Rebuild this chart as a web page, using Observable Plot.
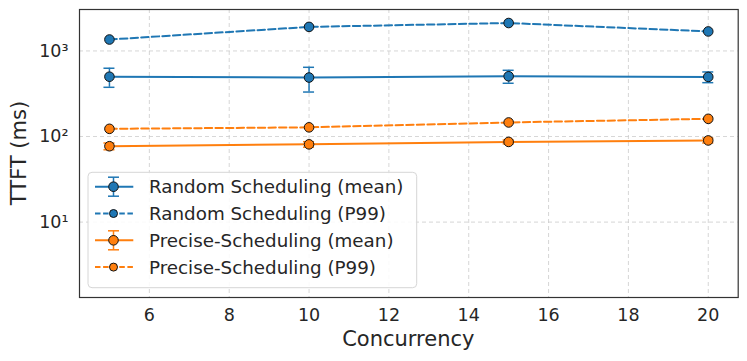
<!DOCTYPE html>
<html><head><meta charset="utf-8">
<script src="https://cdn.jsdelivr.net/npm/d3@7"></script>
<script src="https://cdn.jsdelivr.net/npm/@observablehq/plot@0.6"></script>
<style>body{margin:0;background:#fff;}svg{font-family:"DejaVu Sans",sans-serif;}</style>
</head><body><div id="chart"></div>
<script>
const concurrency = [5, 10, 15, 20];
const randomMean = [500, 489, 506, 497];
const randomErrLow = [376, 331, 419, 426];
const randomErrHigh = [628, 644, 594, 568];
const randomP99 = [1360, 1910, 2120, 1690];
const preciseMean = [77, 81, 86.5, 90];
const preciseErrLow = [70, 75, 82, 84];
const preciseErrHigh = [84, 87, 91, 96];
const preciseP99 = [123, 128, 146, 161];
const yTicks = [10, 100, 1000];
const yTickLabels = ["10¹", "10²", "10³"];
const xTicks = [6, 8, 10, 12, 14, 16, 18, 20];
const seriesNames = ["Random Scheduling (mean)", "Random Scheduling (P99)", "Precise-Scheduling (mean)", "Precise-Scheduling (P99)"];

const BLUE = "#1f77b4", ORANGE = "#ff7f0e", TXT = "#262626";
const rows = (ys, lo, hi) => concurrency.map((x, i) => ({x, y: ys[i], lo: lo ? lo[i] : null, hi: hi ? hi[i] : null}));
const rMean = rows(randomMean, randomErrLow, randomErrHigh);
const rP99 = rows(randomP99);
const pMean = rows(preciseMean, preciseErrLow, preciseErrHigh);
const pP99 = rows(preciseP99);
const dash = "7.4,3.2";

function errMarks(data, color) {
  return [
    Plot.ruleX(data, {x: "x", y1: "lo", y2: "hi", stroke: color, strokeWidth: 1.5}),
    Plot.ruleY(data, {x1: "x", x2: "x", y: "lo", stroke: color, strokeWidth: 1.5, insetLeft: -5.5, insetRight: -5.5}),
    Plot.ruleY(data, {x1: "x", x2: "x", y: "hi", stroke: color, strokeWidth: 1.5, insetLeft: -5.5, insetRight: -5.5})
  ];
}

const W = 747, H = 361;
const chart = Plot.plot({
  width: W, height: H,
  marginLeft: 79, marginTop: 9, marginRight: 9.3, marginBottom: 64,
  style: {fontFamily: "DejaVu Sans, sans-serif", fontSize: "17.5px", color: TXT, background: "#fff"},
  x: {domain: [4.25, 20.75], ticks: xTicks, label: null},
  y: {type: "log", domain: [1.315, 3050], ticks: yTicks, label: null},
  marks: [
    Plot.gridX(xTicks, {stroke: "#cccccc", strokeOpacity: 1, strokeDasharray: "4,3", strokeWidth: 0.8}),
    Plot.gridY(yTicks, {stroke: "#cccccc", strokeOpacity: 1, strokeDasharray: "4,3", strokeWidth: 0.8}),
    Plot.axisX(xTicks, {tickSize: 0, tickPadding: 11, fill: TXT, fontSize: 17.5, label: null}),
    Plot.axisY(yTicks, {tickSize: 0, tickPadding: 11, fill: TXT, fontSize: 17.5, label: null,
      tickFormat: (d) => yTickLabels[yTicks.indexOf(d)]}),
    ...errMarks(rMean, BLUE),
    ...errMarks(pMean, ORANGE),
    Plot.line(rMean, {x: "x", y: "y", stroke: BLUE, strokeWidth: 2}),
    Plot.line(rP99, {x: "x", y: "y", stroke: BLUE, strokeWidth: 2, strokeDasharray: dash}),
    Plot.line(pMean, {x: "x", y: "y", stroke: ORANGE, strokeWidth: 2}),
    Plot.line(pP99, {x: "x", y: "y", stroke: ORANGE, strokeWidth: 2, strokeDasharray: dash}),
    Plot.dot(rMean, {x: "x", y: "y", r: 4.8, fill: BLUE, stroke: "#111", strokeWidth: 1}),
    Plot.dot(rP99, {x: "x", y: "y", r: 4.8, fill: BLUE, stroke: "#111", strokeWidth: 1}),
    Plot.dot(pMean, {x: "x", y: "y", r: 4.8, fill: ORANGE, stroke: "#111", strokeWidth: 1}),
    Plot.dot(pP99, {x: "x", y: "y", r: 4.8, fill: ORANGE, stroke: "#111", strokeWidth: 1}),
    Plot.frame({stroke: "#333", strokeWidth: 1.2})
  ]
});
document.getElementById("chart").append(chart);

const svg = d3.select(chart);
// axis labels
svg.append("text").attr("x", 408.3).attr("y", 346).attr("text-anchor", "middle")
  .attr("font-size", 21).attr("fill", TXT).text("Concurrency");
svg.append("text").attr("transform", "translate(25.6,153) rotate(-90)").attr("text-anchor", "middle")
  .attr("font-size", 21).attr("fill", TXT).text("TTFT (ms)");

// legend
const lg = svg.append("g");
lg.append("rect").attr("x", 88).attr("y", 172.3).attr("width", 328.7).attr("height", 115.4)
  .attr("rx", 4).attr("fill", "#fff").attr("fill-opacity", 0.85).attr("stroke", "#d6d6d6").attr("stroke-width", 1);
const legendItems = [
  {name: seriesNames[0], color: BLUE, dashed: false, err: true},
  {name: seriesNames[1], color: BLUE, dashed: true, err: false},
  {name: seriesNames[2], color: ORANGE, dashed: false, err: true},
  {name: seriesNames[3], color: ORANGE, dashed: true, err: false}
];
legendItems.forEach((it, i) => {
  const cy = 186.7 + i * 26.8;
  const g = lg.append("g");
  g.append("line").attr("x1", 95).attr("x2", 133.3).attr("y1", cy).attr("y2", cy)
    .attr("stroke", it.color).attr("stroke-width", 2).attr("stroke-dasharray", it.dashed ? "5.5,2.6" : null);
  if (it.err) {
    g.append("line").attr("x1", 113.5).attr("x2", 113.5).attr("y1", cy - 9.5).attr("y2", cy + 9.5).attr("stroke", it.color).attr("stroke-width", 1.5);
    g.append("line").attr("x1", 108).attr("x2", 119).attr("y1", cy - 9.5).attr("y2", cy - 9.5).attr("stroke", it.color).attr("stroke-width", 1.5);
    g.append("line").attr("x1", 108).attr("x2", 119).attr("y1", cy + 9.5).attr("y2", cy + 9.5).attr("stroke", it.color).attr("stroke-width", 1.5);
  }
  g.append("circle").attr("cx", 113.5).attr("cy", cy).attr("r", it.dashed ? 4 : 4.8).attr("fill", it.color).attr("stroke", "#111").attr("stroke-width", 1);
  g.append("text").attr("x", 149).attr("y", cy).attr("dy", "0.36em").attr("text-anchor", "start")
    .attr("font-size", 18.3).attr("fill", TXT).text(it.name);
});
</script>
</body></html>
